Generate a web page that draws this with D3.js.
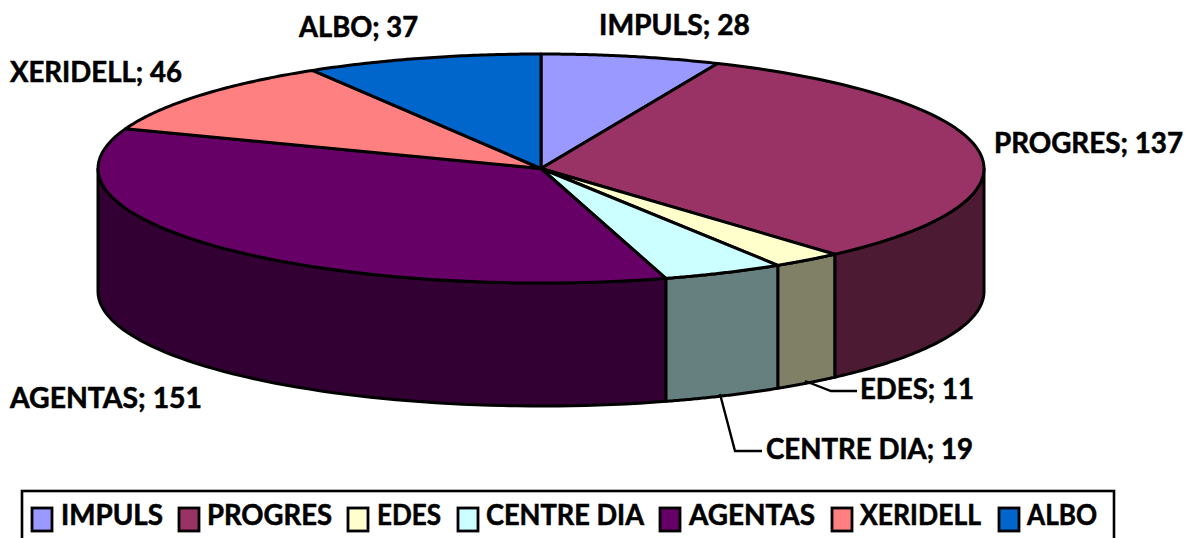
<!DOCTYPE html>
<html><head><meta charset="utf-8">
<script src="https://cdnjs.cloudflare.com/ajax/libs/d3/7.9.0/d3.min.js"></script>
<style>html,body{margin:0;padding:0;background:#fff;overflow:hidden}svg{display:block}
text{font-family:Lato,"Open Sans",sans-serif;font-weight:700;fill:#000;stroke:#000;stroke-width:.55px;font-size:28px}</style>
</head><body><svg id="c" width="1197" height="538"></svg>
<script>
const categories=["IMPULS","PROGRES","EDES","CENTRE DIA","AGENTAS","XERIDELL","ALBO"];
const values=[28,137,11,19,151,46,37];
const topColors=["#9999FF","#993366","#FFFFCC","#CCFFFF","#660066","#FF8080","#0066CC"];
const sideColors=["#666699","#4D1A33","#808066","#668080","#330033","#804040","#003366"];

const cx=541,cy=168.5,rx=443,ry=114.5,depth=123;
const svg=d3.select("#c");
const arcs=d3.pie().sort(null).value(d=>d).startAngle(0).endAngle(2*Math.PI)(values);
const X=a=>cx+rx*Math.sin(a), Y=a=>cy-ry*Math.cos(a);
const line=d3.line().x(d=>d[0]).y(d=>d[1]);
const samples=(a,b)=>d3.range(0,61).map(i=>a+(b-a)*i/60);

const PI=Math.PI, sw=3;
arcs.forEach((d,i)=>{
  const a=Math.max(d.startAngle,PI/2), b=Math.min(d.endAngle,3*PI/2);
  if(b<=a) return;
  const s=samples(a,b);
  const pts=s.map(t=>[X(t),Y(t)]).concat(s.slice().reverse().map(t=>[X(t),Y(t)+depth]));
  svg.append("path").attr("d",line(pts)+"Z").attr("fill",sideColors[i])
     .attr("stroke","#000").attr("stroke-width",sw).attr("stroke-linejoin","round");
});
arcs.forEach((d,i)=>{
  const s=samples(d.startAngle,d.endAngle);
  const pts=[[cx,cy]].concat(s.map(t=>[X(t),Y(t)]));
  svg.append("path").attr("d",line(pts)+"Z").attr("fill",topColors[i])
     .attr("stroke","#000").attr("stroke-width",sw).attr("stroke-linejoin","round");
});

// data labels: [x, baseline, width]
const labelPos=[[599,35,151],[994,153,189],[860,399,114],[766,459,207],[10,408,192],[10,82,172],[299,37,119]];
categories.forEach((c,i)=>{
  svg.append("text").attr("x",labelPos[i][0]).attr("y",labelPos[i][1])
     .attr("textLength",labelPos[i][2]).attr("lengthAdjust","spacingAndGlyphs").text(c+"; "+values[i]);
});
const leaders=[[[805,381],[831,391],[857,391]],[[720,394],[735,451],[762,451]]];
leaders.forEach(l=>svg.append("path").attr("d",line(l)).attr("fill","none").attr("stroke","#000").attr("stroke-width",2.4));

// legend
svg.append("rect").attr("x",22).attr("y",491).attr("width",1092).attr("height",60)
   .attr("fill","#fff").attr("stroke","#000").attr("stroke-width",2.6);
const swatchX=[32,179,348,458,660,832,999];
const legendText=[[61,102],[207,125],[377,64],[486,158],[689,126],[860,121],[1027,70]];
categories.forEach((c,i)=>{
  svg.append("rect").attr("x",swatchX[i]).attr("y",508).attr("width",20).attr("height",23)
     .attr("fill",topColors[i]).attr("stroke","#000").attr("stroke-width",2.8);
  svg.append("text").attr("x",legendText[i][0]).attr("y",525)
     .attr("textLength",legendText[i][1]).attr("lengthAdjust","spacingAndGlyphs").text(c);
});
</script></body></html>
